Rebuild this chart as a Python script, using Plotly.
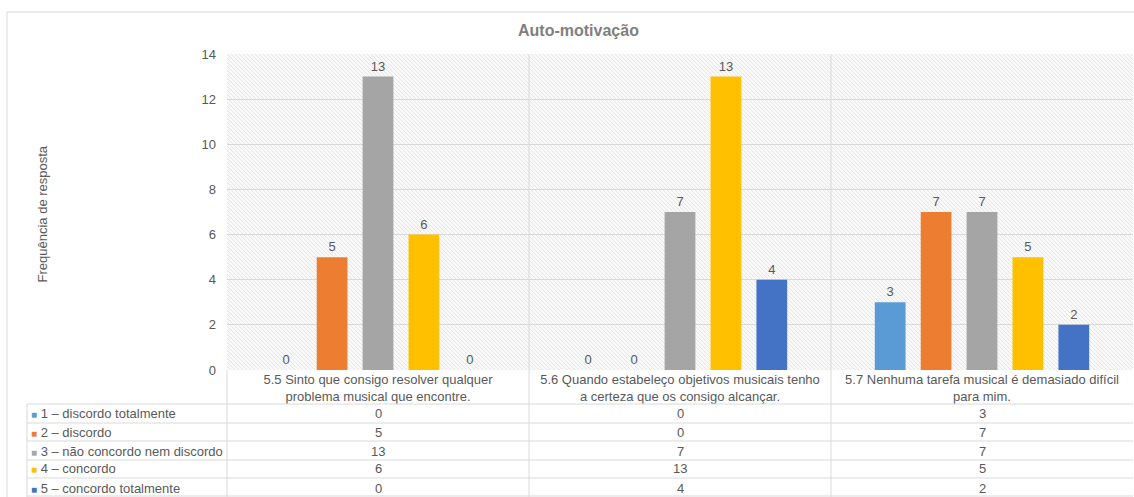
import base64
import plotly.graph_objects as go

# Survey items (x categories) and response levels
categories = [
    "5.5 Sinto que consigo resolver qualquer<br>problema musical que encontre.",
    "5.6 Quando estabeleço objetivos musicais tenho<br>a certeza que os consigo alcançar.",
    "5.7 Nenhuma tarefa musical é demasiado difícil<br>para mim.",
]
levels = [
    "1 – discordo totalmente",
    "2 – discordo",
    "3 – não concordo nem discordo",
    "4 – concordo",
    "5 – concordo totalmente",
]
level_1 = [0, 0, 3]
level_2 = [5, 0, 7]
level_3 = [13, 7, 7]
level_4 = [6, 13, 5]
level_5 = [0, 4, 2]
series = [level_1, level_2, level_3, level_4, level_5]
colors = ["#5B9BD5", "#ED7D31", "#A5A5A5", "#FFC000", "#4472C4"]

W, H = 1134, 497
ML, MR, MT, MB = 227, 1, 54, 127
PW, PH = W - ML - MR, H - MT - MB
TXT = "#595959"
LINE = "#d9d9d9"
FONT = "Liberation Sans, Arial, sans-serif"
FS = 13


def px_x(px):
    return (px - ML) / PW


def px_y(py):
    return (H - MB - py) / PH


fig = go.Figure()
for name, vals, col in zip(levels, series, colors):
    fig.add_trace(go.Bar(
        x=categories, y=vals, name=name,
        marker=dict(color=col, line=dict(width=0)),
        text=vals, textposition="outside",
        textfont=dict(size=FS, color=TXT, family=FONT),
        cliponaxis=False,
    ))

# fine diagonal hatch behind the plot area
svg = (
    f'<svg xmlns="http://www.w3.org/2000/svg" width="{PW}" height="{PH}" viewBox="0 0 {PW} {PH}">'
    '<defs><pattern id="h" patternUnits="userSpaceOnUse" width="4" height="4">'
    '<rect width="4" height="4" fill="#f9f9f9"/>'
    '<path d="M-1,-1 L5,5 M-1,3 L1,5 M3,-1 L5,1" stroke="#e6e6e6" stroke-width="1"/>'
    '</pattern></defs>'
    f'<rect width="{PW}" height="{PH}" fill="url(#h)"/></svg>'
)
hatch_src = "data:image/svg+xml;base64," + base64.b64encode(svg.encode()).decode()

shapes = []
# category separators running through the table
for k in (1, 2):
    shapes.append(dict(type="line", xref="paper", yref="paper", x0=k / 3, x1=k / 3,
                       y0=1, y1=px_y(497), line=dict(color=LINE, width=1)))
# table frame
shapes.append(dict(type="line", xref="paper", yref="paper", x0=0, x1=0,
                   y0=0, y1=px_y(497), line=dict(color=LINE, width=1)))
shapes.append(dict(type="line", xref="paper", yref="paper", x0=px_x(27), x1=px_x(27),
                   y0=px_y(404), y1=px_y(497), line=dict(color=LINE, width=1)))
for py in (404, 423, 441, 460, 478, 496):
    shapes.append(dict(type="line", xref="paper", yref="paper", x0=px_x(27), x1=1,
                       y0=px_y(py), y1=px_y(py), line=dict(color=LINE, width=1)))
# outer chart border
shapes.append(dict(type="rect", xref="paper", yref="paper", x0=px_x(7), x1=px_x(1140),
                   y0=px_y(505), y1=px_y(12), line=dict(color=LINE, width=1)))

annotations = []
row_centers = [413, 432, 451, 469, 488]
for name, vals, col, yc in zip(levels, series, colors, row_centers):
    annotations.append(dict(
        xref="paper", yref="paper", x=px_x(29), y=px_y(yc), xanchor="left", yanchor="middle",
        text=f"<span style='color:{col};font-size:10px'>■</span> {name}",
        showarrow=False, font=dict(size=FS, color=TXT, family=FONT),
    ))
    for cat, v in zip(categories, vals):
        annotations.append(dict(
            xref="x", yref="paper", x=cat, y=px_y(yc), xanchor="center", yanchor="middle",
            text=str(v), showarrow=False, font=dict(size=FS, color=TXT, family=FONT),
        ))
annotations.append(dict(
    xref="paper", yref="paper", x=px_x(32), y=px_y(214), textangle=-90,
    text="Frequência de resposta", showarrow=False,
    font=dict(size=FS, color=TXT, family=FONT),
))
annotations.append(dict(
    xref="paper", yref="paper", x=px_x(578), y=px_y(30), xanchor="center", yanchor="middle",
    text="<b>Auto-motivação</b>", showarrow=False,
    font=dict(size=16, color="#7f7f7f", family=FONT),
))

fig.update_layout(
    width=W, height=H,
    margin=dict(l=ML, r=MR, t=MT, b=MB, pad=0),
    paper_bgcolor="white", plot_bgcolor="rgba(0,0,0,0)",
    barmode="group", bargap=0.24, bargroupgap=0.33,
    showlegend=False,
    font=dict(family=FONT, color=TXT, size=FS),
    shapes=shapes, annotations=annotations,
    images=[dict(source=hatch_src, xref="paper", yref="paper", x=0, y=1,
                 sizex=1, sizey=1, xanchor="left", yanchor="top",
                 sizing="stretch", layer="below")],
    xaxis=dict(showgrid=False, showline=False, zeroline=False, ticks="",
               tickfont=dict(size=FS, color=TXT, family=FONT)),
    yaxis=dict(range=[0, 14], dtick=2, showgrid=True, gridcolor=LINE, gridwidth=1,
               zeroline=False, showline=False, ticks="", ticklabelstandoff=10,
               tickfont=dict(size=FS, color=TXT, family=FONT)),
)

fig.write_html("out.html")
